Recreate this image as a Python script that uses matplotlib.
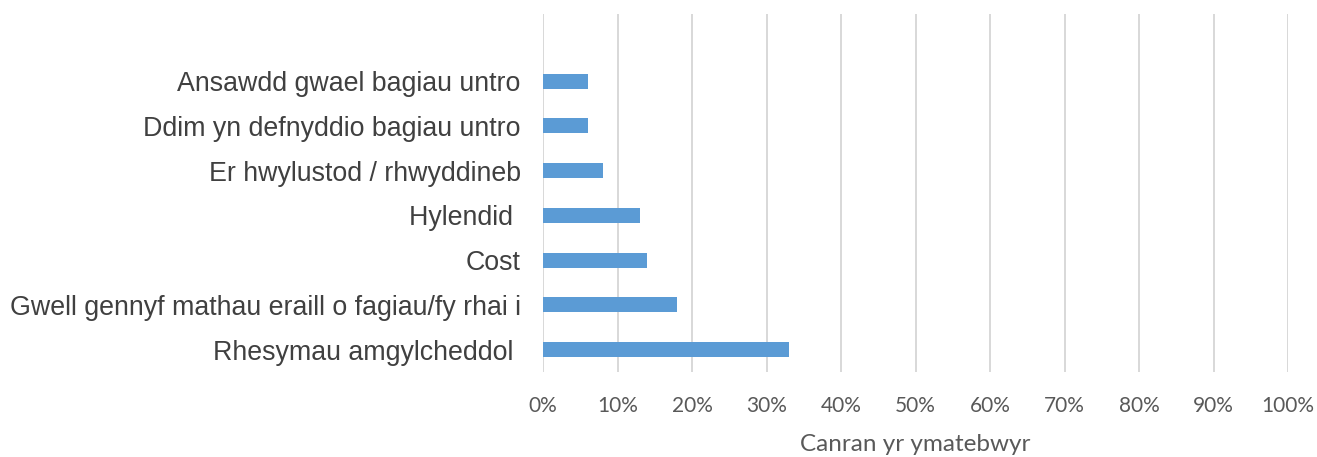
import matplotlib
matplotlib.use('Agg')
import matplotlib.pyplot as plt
import numpy as np

# Survey reasons, bottom to top as drawn
reasons = ['Rhesymau amgylcheddol ',
           'Gwell gennyf mathau eraill o fagiau/fy rhai i',
           'Cost',
           'Hylendid ',
           'Er hwylustod / rhwyddineb',
           'Ddim yn defnyddio bagiau untro',
           'Ansawdd gwael bagiau untro']
share = [33, 18, 14, 13, 8, 6, 6]  # percent of respondents
x_ticks = [0, 10, 20, 30, 40, 50, 60, 70, 80, 90, 100]
x_title = 'Canran yr ymatebwyr'

BAR_COLOR = '#5B9BD5'

fig = plt.figure(figsize=(13.17, 4.57), dpi=100)
ax = fig.add_axes([543 / 1317, 85 / 457, 745 / 1317, 358 / 457])

ypos = np.arange(len(reasons))
ax.barh(ypos, share, height=0.34, color=BAR_COLOR, zorder=3)

ax.set_xlim(0, 100)
ax.set_ylim(-0.5, 7.5)
ax.set_xticks(x_ticks)
ax.set_xticklabels([f'{t}%' for t in x_ticks], fontsize=15,
                   family='Lato', color='#595959')
ax.set_yticks(ypos)
ax.set_yticklabels(reasons, fontsize=19.3, family='Liberation Sans',
                   color='#404040')
ax.tick_params(axis='both', length=0)
ax.tick_params(axis='y', pad=16)
ax.tick_params(axis='x', pad=17)

# vertical gridlines
ax.grid(axis='x', color='#d6d6d6', linewidth=1.3, zorder=0)
for s in ax.spines.values():
    s.set_visible(False)

ax.set_xlabel(x_title, fontsize=17.5, family='Lato', color='#595959',
              labelpad=13)

fig.savefig('out.png', dpi=100)
